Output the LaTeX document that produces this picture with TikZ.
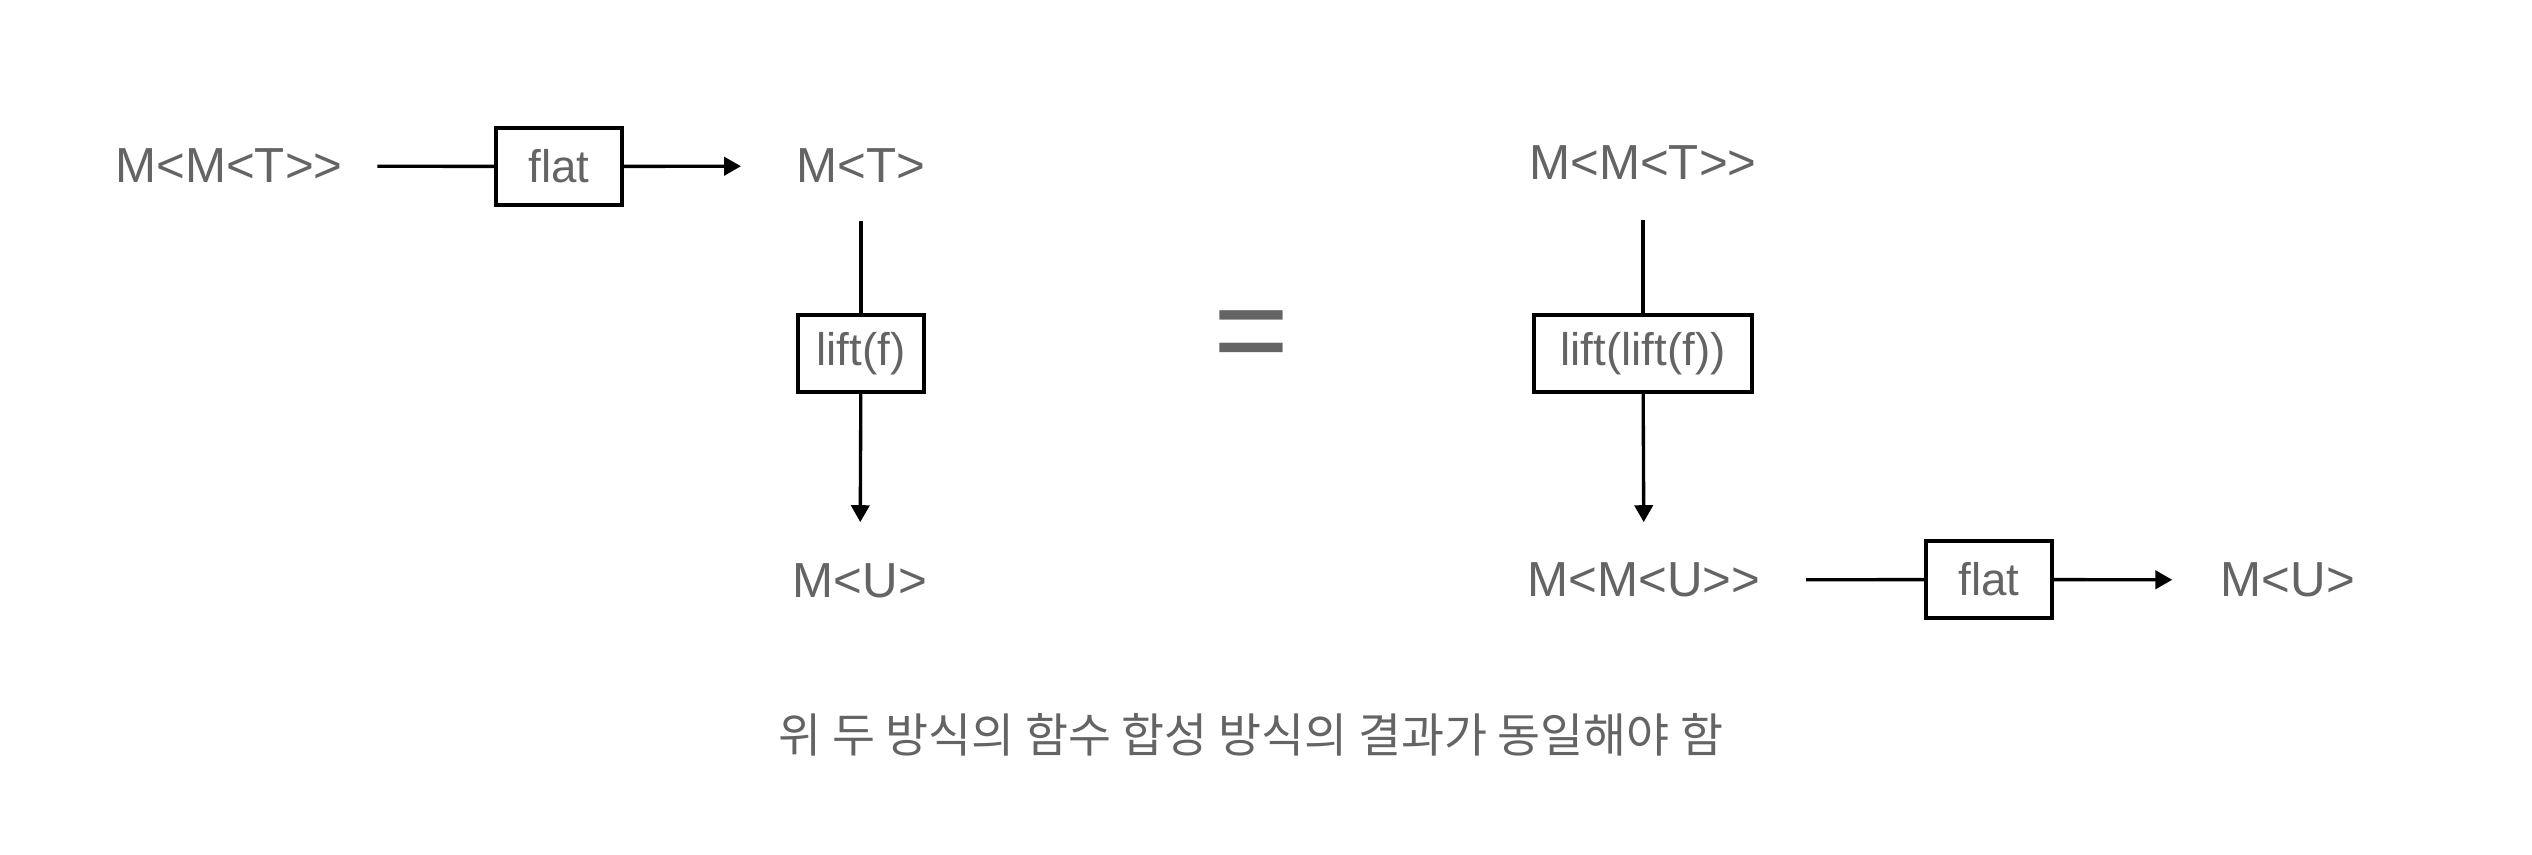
\documentclass[tikz,border=0pt]{standalone}
\usepackage{fontspec}
\setmainfont{Liberation Sans}[Ligatures=TeXOff]
\newfontfamily\krfont{Noto Sans CJK KR}
\usetikzlibrary{arrows.meta}
\definecolor{txtgray}{HTML}{646464}

\begin{document}
\begin{tikzpicture}[x=0.01cm, y=-0.01cm,
    term/.style={inner sep=0pt, text=txtgray, font=\fontsize{14}{16}\selectfont},
    opbox/.style={draw, line width=1.2pt, inner sep=0pt, minimum height=0.77cm,
        text=txtgray, font=\fontsize{13}{15}\selectfont},
    wire/.style={line width=0.95pt},
    arrow/.style={wire, -{Triangle[length=4.8pt, width=5.2pt]}}]
    \useasboundingbox (0,0) rectangle (2532,854);

    % Left side: flat, then lift(f)
    \node[term] (mmt) at (229,166) {M<M<T>>};
    \node[opbox, minimum width=1.26cm] (flatA) at (559,166.5) {flat};
    \node[term] (mt) at (861,166) {M<T>};
    \node[opbox, minimum width=1.26cm] (liftf) at (861,353.5) {lift(f)};
    \node[term] (muA) at (860,581) {M<U>};

    % The equal sign
    \node[inner sep=0pt, text=txtgray, font=\fontsize{37}{40}\selectfont] (eq) at (1251,343) {=};

    % Right side: lift(lift(f)), then flat
    \node[term] (mmt2) at (1643,163) {M<M<T>>};
    \node[opbox, minimum width=2.18cm] (liftlift) at (1643,353.5) {lift(lift(f))};
    \node[term] (mmu) at (1644,580) {M<M<U>>};
    \node[opbox, minimum width=1.26cm] (flatB) at (1989,579.5) {flat};
    \node[term] (muB) at (2288,580) {M<U>};

    % Draw the connectors
    \draw[wire, shorten <=0.34cm] (mmt) -- (flatA);
    \draw[arrow, shorten >=0.55cm] (flatA) -- (mt);
    \draw[wire, shorten <=0.37cm] (mt) -- (liftf);
    \draw[arrow, shorten >=0.41cm] (liftf) -- (muA);
    \draw[wire, shorten <=0.39cm] (mmt2) -- (liftlift);
    \draw[arrow, shorten >=0.40cm] (liftlift) -- (mmu);
    \draw[wire, shorten <=0.45cm] (mmu) -- (flatB);
    \draw[arrow, shorten >=0.48cm] (flatB) -- (muB);

    % Caption
    \node[inner sep=0pt, text=txtgray, font=\krfont\fontsize{13.3}{16}\selectfont] (note) at (1251,735)
        {위 두 방식의 함수 합성 방식의 결과가 동일해야 함};
\end{tikzpicture}
\end{document}
